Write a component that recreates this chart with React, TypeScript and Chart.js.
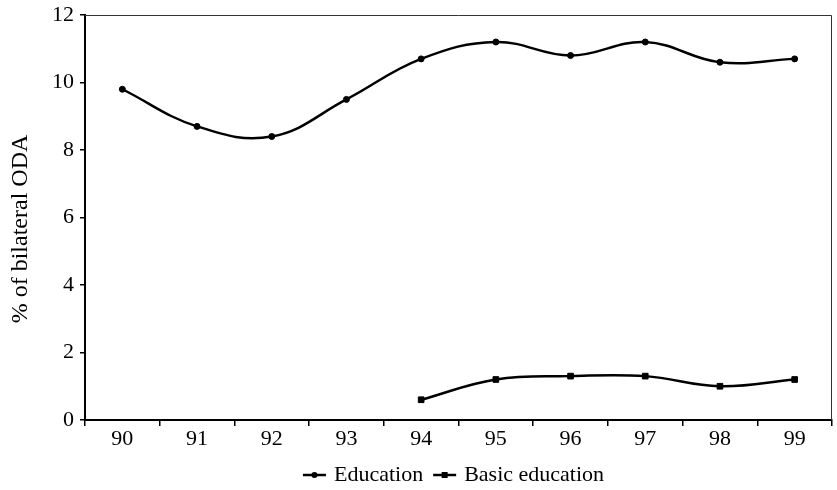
import React, { useEffect, useRef } from 'react';
import { Chart, registerables } from 'chart.js';

Chart.register(...registerables);

const years = ['90', '91', '92', '93', '94', '95', '96', '97', '98', '99'];
const education = [9.8, 8.7, 8.4, 9.5, 10.7, 11.2, 10.8, 11.2, 10.6, 10.7];
const basicEducation = [null, null, null, null, 0.6, 1.2, 1.3, 1.3, 1.0, 1.2];
const seriesNames = ['Education', 'Basic education'];
const yTitle = '% of bilateral ODA';
const yMin = 0;
const yMax = 12;
const yStep = 2;

const FONT = '"Liberation Serif", "Times New Roman", serif';

const framePlugin = {
  id: 'frame',
  beforeDatasetsDraw(chart: any) {
    const { ctx, chartArea: a } = chart;
    ctx.save();
    ctx.strokeStyle = '#333';
    ctx.lineWidth = 1;
    ctx.beginPath();
    ctx.moveTo(a.left, a.top + 0.5);
    ctx.lineTo(a.right - 0.5, a.top + 0.5);
    ctx.lineTo(a.right - 0.5, a.bottom);
    ctx.stroke();
    ctx.fillStyle = '#000';
    ctx.font = `24px ${FONT}`;
    ctx.textAlign = 'center';
    ctx.textBaseline = 'middle';
    ctx.translate(21, 229);
    ctx.rotate(-Math.PI / 2);
    ctx.fillText(yTitle, 0, 0);
    ctx.restore();
  },
};

const legendPlugin = {
  id: 'customLegend',
  afterDraw(chart: any) {
    const { ctx, chartArea: a } = chart;
    const ds = chart.data.datasets;
    ctx.save();
    ctx.font = `22px ${FONT}`;
    const iconW = 23;
    const gapIcon = 8;
    const gapItem = 10;
    const widths = ds.map((d: any) => iconW + gapIcon + ctx.measureText(d.label).width);
    const total = widths.reduce((s: number, w: number) => s + w, 0) + gapItem * (ds.length - 1);
    let x = (a.left + a.right) / 2 - 5 - total / 2;
    const y = 475;
    ds.forEach((d: any, i: number) => {
      ctx.strokeStyle = '#000';
      ctx.fillStyle = '#000';
      ctx.lineWidth = 2.5;
      ctx.beginPath();
      ctx.moveTo(x, y);
      ctx.lineTo(x + iconW, y);
      ctx.stroke();
      const cx = x + iconW / 2;
      if (d.pointStyle === 'rect') {
        ctx.fillRect(cx - 3, y - 3, 6, 6);
      } else {
        ctx.beginPath();
        ctx.arc(cx, y, 3, 0, Math.PI * 2);
        ctx.fill();
      }
      ctx.textAlign = 'left';
      ctx.textBaseline = 'middle';
      ctx.fillText(d.label, x + iconW + gapIcon, y);
      x += widths[i] + gapItem;
    });
    ctx.restore();
  },
};

export default function App() {
  const ref = useRef<HTMLCanvasElement | null>(null);

  useEffect(() => {
    document.body.style.margin = '0';
    const canvas = ref.current;
    if (!canvas) return;
    const chart = new Chart(canvas, {
      type: 'line',
      data: {
        labels: years,
        datasets: [
          {
            label: seriesNames[0],
            data: education,
            borderColor: '#000',
            backgroundColor: '#000',
            borderWidth: 2.5,
            tension: 0.4,
            pointStyle: 'circle',
            pointRadius: 3,
            pointBorderWidth: 1,
            pointBackgroundColor: '#000',
            pointBorderColor: '#000',
          },
          {
            label: seriesNames[1],
            data: basicEducation,
            borderColor: '#000',
            backgroundColor: '#000',
            borderWidth: 2.5,
            tension: 0.4,
            pointStyle: 'rect',
            pointRadius: 4,
            pointBorderWidth: 1,
            pointBackgroundColor: '#000',
            pointBorderColor: '#000',
          },
        ],
      },
      options: {
        responsive: false,
        animation: false,
        layout: { padding: { top: 15, right: -5, left: 0, bottom: 30 } },
        plugins: {
          legend: { display: false },
          tooltip: { enabled: false },
        },
        scales: {
          x: {
            offset: true,
            grid: {
              display: true,
              offset: true,
              drawOnChartArea: false,
              drawTicks: true,
              tickLength: 6,
              color: '#000',
              lineWidth: 1.5,
            },
            border: { display: true, color: '#000', width: 2 },
            ticks: {
              color: '#000',
              font: { family: FONT, size: 22 },
              padding: 0,
              maxRotation: 0,
              autoSkip: false,
            },
            afterFit(scale: any) {
              scale.height = 40;
              scale.paddingLeft = 0;
              scale.paddingRight = 0;
            },
          },
          y: {
            min: yMin,
            max: yMax,
            grid: {
              display: true,
              drawOnChartArea: false,
              drawTicks: true,
              tickLength: 5,
              color: '#000',
              lineWidth: 1.5,
            },
            border: { display: true, color: '#000', width: 2 },
            ticks: {
              stepSize: yStep,
              color: '#000',
              font: { family: FONT, size: 22 },
              padding: 6,
            },
            title: { display: false },
            afterFit(scale: any) {
              scale.width = 85;
              scale.paddingTop = 0;
              scale.paddingBottom = 0;
            },
          },
        },
      },
      plugins: [framePlugin, legendPlugin],
    });
    return () => chart.destroy();
  }, []);

  return (
    <div style={{ position: 'absolute', left: 0, top: 0, width: 837, height: 490 }}>
      <canvas ref={ref} width={837} height={490} />
    </div>
  );
}
